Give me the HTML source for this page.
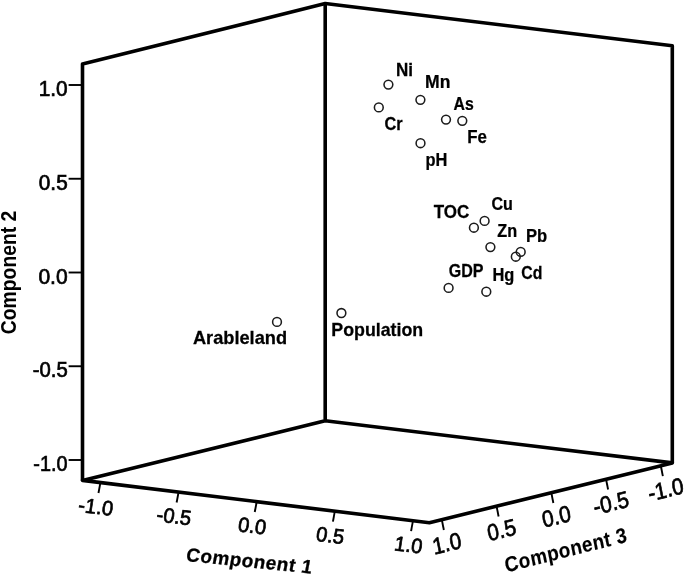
<!DOCTYPE html>
<html><head><meta charset="utf-8"><title>Component plot</title>
<style>
html,body{margin:0;padding:0;background:#fff;}
svg{display:block;filter:blur(0.4px)}
.t{font-family:"Liberation Sans",Arial,sans-serif;fill:#000}
.b{font-family:"Liberation Sans",Arial,sans-serif;font-weight:bold;fill:#000}
</style></head><body>
<svg width="685" height="577" viewBox="0 0 685 577">
<rect width="685" height="577" fill="#fff"/>
<polyline fill="none" stroke="#000" stroke-width="3.6" stroke-linejoin="round" points="82.5,480.4 82.5,64.1 325.2,3.5 672.3,45.7 672.3,462.9"/>
<polyline fill="none" stroke="#000" stroke-width="3.6" stroke-linejoin="round" points="325.2,420.8 82.5,480.4 429.4,522.7 672.3,462.9 325.2,420.8 325.2,3.5"/>
<line x1="68.60" y1="85.00" x2="82.50" y2="85.00" stroke="#000" stroke-width="1.9" stroke-linecap="butt"/>
<text transform="translate(38.69,96.03) scale(0.9435,1)" font-size="22.11" class="t" stroke="#000" stroke-width="0.7">1.0</text>
<line x1="68.60" y1="178.75" x2="82.50" y2="178.75" stroke="#000" stroke-width="1.9" stroke-linecap="butt"/>
<text transform="translate(38.82,189.78) scale(0.9390,1)" font-size="22.11" class="t" stroke="#000" stroke-width="0.7">0.5</text>
<line x1="68.60" y1="272.50" x2="82.50" y2="272.50" stroke="#000" stroke-width="1.9" stroke-linecap="butt"/>
<text transform="translate(38.41,283.53) scale(0.9528,1)" font-size="22.11" class="t" stroke="#000" stroke-width="0.7">0.0</text>
<line x1="68.60" y1="366.25" x2="82.50" y2="366.25" stroke="#000" stroke-width="1.9" stroke-linecap="butt"/>
<text transform="translate(32.74,377.28) scale(0.9183,1)" font-size="22.11" class="t" stroke="#000" stroke-width="0.7">-0.5</text>
<line x1="68.60" y1="460.00" x2="82.50" y2="460.00" stroke="#000" stroke-width="1.9" stroke-linecap="butt"/>
<text transform="translate(33.36,471.03) scale(0.8989,1)" font-size="22.11" class="t" stroke="#000" stroke-width="0.7">-1.0</text>
<text transform="translate(16.3,272.4) rotate(-90) scale(0.90,1)" text-anchor="middle" font-size="21.5" class="b">Component 2</text>
<line x1="100.22" y1="483.57" x2="98.46" y2="492.98" stroke="#000" stroke-width="1.9" stroke-linecap="butt"/>
<text transform="matrix(0.9926,0.1210,-0.1500,0.9900,95.92,506.54) scale(0.975,1)" x="0" y="7.3" text-anchor="middle" font-size="20.7" class="t" stroke="#000" stroke-width="0.7">-1.0</text>
<line x1="178.37" y1="493.10" x2="176.61" y2="502.51" stroke="#000" stroke-width="1.9" stroke-linecap="butt"/>
<text transform="matrix(0.9926,0.1210,-0.1500,0.9900,174.07,516.07) scale(0.975,1)" x="0" y="7.3" text-anchor="middle" font-size="20.7" class="t" stroke="#000" stroke-width="0.7">-0.5</text>
<line x1="256.52" y1="502.63" x2="254.76" y2="512.04" stroke="#000" stroke-width="1.9" stroke-linecap="butt"/>
<text transform="matrix(0.9926,0.1210,-0.1500,0.9900,252.22,525.60) scale(0.975,1)" x="0" y="7.3" text-anchor="middle" font-size="20.7" class="t" stroke="#000" stroke-width="0.7">0.0</text>
<line x1="334.67" y1="512.16" x2="332.91" y2="521.57" stroke="#000" stroke-width="1.9" stroke-linecap="butt"/>
<text transform="matrix(0.9926,0.1210,-0.1500,0.9900,330.37,535.13) scale(0.975,1)" x="0" y="7.3" text-anchor="middle" font-size="20.7" class="t" stroke="#000" stroke-width="0.7">0.5</text>
<line x1="412.81" y1="521.69" x2="411.06" y2="531.10" stroke="#000" stroke-width="1.9" stroke-linecap="butt"/>
<text transform="matrix(0.9926,0.1210,-0.1500,0.9900,408.52,544.66) scale(0.975,1)" x="0" y="7.3" text-anchor="middle" font-size="20.7" class="t" stroke="#000" stroke-width="0.7">1.0</text>
<text transform="matrix(0.9950,0.0995,-0.1850,0.9900,185.30,560.90)" x="0" y="0" font-size="19" letter-spacing="0.5" class="b" stroke="#000" stroke-width="0.3">Component 1</text>
<line x1="442.00" y1="520.63" x2="443.85" y2="529.99" stroke="#000" stroke-width="1.9" stroke-linecap="butt"/>
<text transform="matrix(0.9710,-0.2391,0.1950,0.9850,446.78,543.29) scale(0.91,1)" x="0" y="8" text-anchor="middle" font-size="23.0" class="t" stroke="#000" stroke-width="0.7">1.0</text>
<line x1="496.75" y1="507.15" x2="498.60" y2="516.51" stroke="#000" stroke-width="1.9" stroke-linecap="butt"/>
<text transform="matrix(0.9710,-0.2391,0.1950,0.9850,501.53,529.81) scale(0.91,1)" x="0" y="8" text-anchor="middle" font-size="23.0" class="t" stroke="#000" stroke-width="0.7">0.5</text>
<line x1="551.50" y1="493.67" x2="553.35" y2="503.03" stroke="#000" stroke-width="1.9" stroke-linecap="butt"/>
<text transform="matrix(0.9710,-0.2391,0.1950,0.9850,556.28,516.33) scale(0.91,1)" x="0" y="8" text-anchor="middle" font-size="23.0" class="t" stroke="#000" stroke-width="0.7">0.0</text>
<line x1="606.25" y1="480.20" x2="608.10" y2="489.55" stroke="#000" stroke-width="1.9" stroke-linecap="butt"/>
<text transform="matrix(0.9710,-0.2391,0.1950,0.9850,611.03,502.85) scale(0.91,1)" x="0" y="8" text-anchor="middle" font-size="23.0" class="t" stroke="#000" stroke-width="0.7">-0.5</text>
<line x1="661.00" y1="466.72" x2="662.85" y2="476.07" stroke="#000" stroke-width="1.9" stroke-linecap="butt"/>
<text transform="matrix(0.9710,-0.2391,0.1950,0.9850,665.78,489.37) scale(0.91,1)" x="0" y="8" text-anchor="middle" font-size="23.0" class="t" stroke="#000" stroke-width="0.7">-1.0</text>
<text transform="matrix(0.9690,-0.2470,0.1950,0.9850,506.30,572.50) scale(0.905,1)" x="0" y="0" font-size="21" letter-spacing="0.45" class="b" stroke="#000" stroke-width="0.15">Component 3</text>
<circle cx="388.4" cy="84.6" r="4.4" fill="none" stroke="#1c1c1c" stroke-width="1.55"/>
<circle cx="378.8" cy="107.4" r="4.4" fill="none" stroke="#1c1c1c" stroke-width="1.55"/>
<circle cx="420.4" cy="99.8" r="4.4" fill="none" stroke="#1c1c1c" stroke-width="1.55"/>
<circle cx="446.0" cy="119.6" r="4.4" fill="none" stroke="#1c1c1c" stroke-width="1.55"/>
<circle cx="462.3" cy="120.8" r="4.4" fill="none" stroke="#1c1c1c" stroke-width="1.55"/>
<circle cx="420.5" cy="143.2" r="4.4" fill="none" stroke="#1c1c1c" stroke-width="1.55"/>
<circle cx="484.6" cy="220.9" r="4.4" fill="none" stroke="#1c1c1c" stroke-width="1.55"/>
<circle cx="473.9" cy="227.7" r="4.4" fill="none" stroke="#1c1c1c" stroke-width="1.55"/>
<circle cx="490.4" cy="247.1" r="4.4" fill="none" stroke="#1c1c1c" stroke-width="1.55"/>
<circle cx="520.7" cy="251.9" r="4.4" fill="none" stroke="#1c1c1c" stroke-width="1.55"/>
<circle cx="515.8" cy="256.7" r="4.4" fill="none" stroke="#1c1c1c" stroke-width="1.55"/>
<circle cx="448.6" cy="287.9" r="4.4" fill="none" stroke="#1c1c1c" stroke-width="1.55"/>
<circle cx="486.3" cy="291.7" r="4.4" fill="none" stroke="#1c1c1c" stroke-width="1.55"/>
<circle cx="277.0" cy="321.9" r="4.4" fill="none" stroke="#1c1c1c" stroke-width="1.55"/>
<circle cx="341.4" cy="313.0" r="4.4" fill="none" stroke="#1c1c1c" stroke-width="1.55"/>
<text transform="translate(396.05,76.40) scale(0.9711,1)" font-size="17.5" class="b" stroke="#000" stroke-width="0.25">Ni</text>
<text transform="translate(425.11,88.30) scale(1.0038,1)" font-size="17.5" class="b" stroke="#000" stroke-width="0.25">Mn</text>
<text transform="translate(453.56,110.00) scale(0.9020,1)" font-size="17.5" class="b" stroke="#000" stroke-width="0.25">As</text>
<text transform="translate(384.40,130.00) scale(0.9316,1)" font-size="17.5" class="b" stroke="#000" stroke-width="0.25">Cr</text>
<text transform="translate(467.26,142.90) scale(0.9613,1)" font-size="17.5" class="b" stroke="#000" stroke-width="0.25">Fe</text>
<text transform="translate(425.58,165.60) scale(0.9381,1)" font-size="17.5" class="b" stroke="#000" stroke-width="0.25">pH</text>
<text transform="translate(433.78,218.20) scale(0.9732,1)" font-size="17.5" class="b" stroke="#000" stroke-width="0.25">TOC</text>
<text transform="translate(491.51,209.90) scale(0.9190,1)" font-size="17.5" class="b" stroke="#000" stroke-width="0.25">Cu</text>
<text transform="translate(497.36,237.00) scale(0.9305,1)" font-size="17.5" class="b" stroke="#000" stroke-width="0.25">Zn</text>
<text transform="translate(526.07,242.30) scale(0.9475,1)" font-size="17.5" class="b" stroke="#000" stroke-width="0.25">Pb</text>
<text transform="translate(448.71,277.10) scale(0.9165,1)" font-size="17.5" class="b" stroke="#000" stroke-width="0.25">GDP</text>
<text transform="translate(492.48,280.60) scale(0.9381,1)" font-size="17.5" class="b" stroke="#000" stroke-width="0.25">Hg</text>
<text transform="translate(521.32,279.30) scale(0.9050,1)" font-size="17.5" class="b" stroke="#000" stroke-width="0.25">Cd</text>
<text transform="translate(192.89,343.90) scale(1.0415,1)" font-size="17.5" class="b" stroke="#000" stroke-width="0.25">Arableland</text>
<text transform="translate(331.29,336.00) scale(1.0181,1)" font-size="17.5" class="b" stroke="#000" stroke-width="0.25">Population</text>
</svg>
</body></html>
